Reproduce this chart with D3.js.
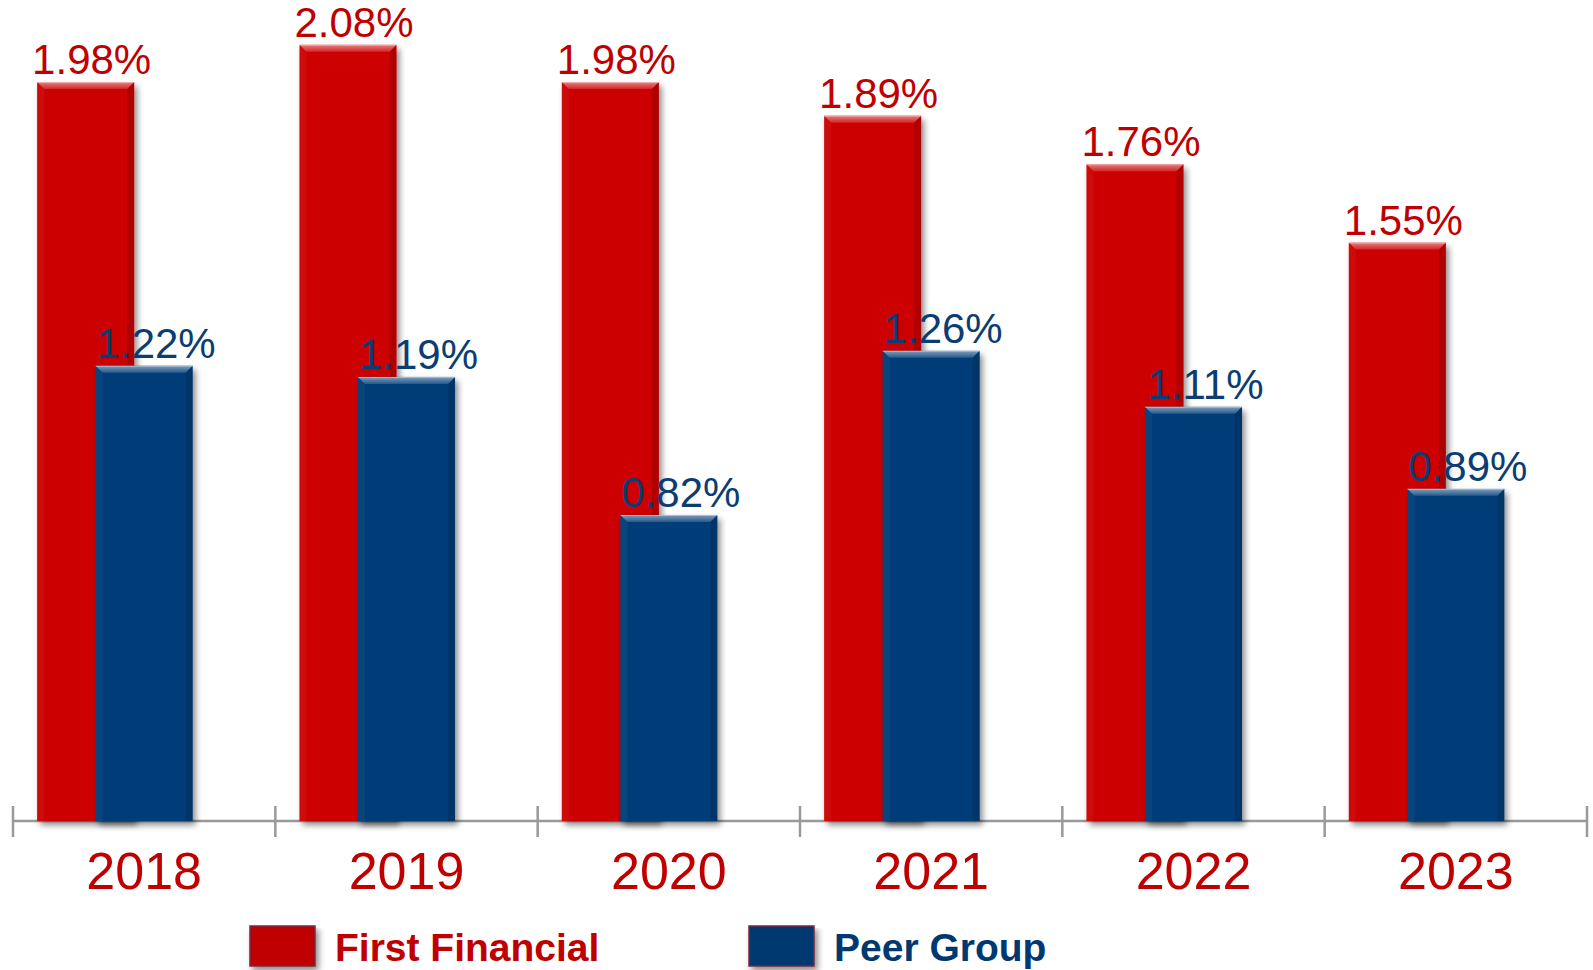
<!DOCTYPE html>
<html><head><meta charset="utf-8">
<script src="https://cdn.jsdelivr.net/npm/d3@7/dist/d3.min.js"></script>
<style>body{margin:0;background:#fff}svg{display:block}</style>
</head><body><svg id="c" width="1593" height="970"></svg>
<script>
const years = ["2018","2019","2020","2021","2022","2023"];
const firstFinancial = [1.98, 2.08, 1.98, 1.89, 1.76, 1.55];
const peerGroup = [1.22, 1.19, 0.82, 1.26, 1.11, 0.89];
const seriesNames = ["First Financial", "Peer Group"];

const W = 1593, H = 970;
const svg = d3.select("#c");
const x = d3.scaleBand().domain(years).range([13, 1587]).paddingInner(0).paddingOuter(0);
const y = d3.scaleLinear().domain([0, 2.2]).range([821, 0]);
const bw = x.bandwidth();
const barW = bw * 0.37;
const redShift = bw * 0.223;

const defs = svg.append("defs");
const f = defs.append("filter").attr("id","sh").attr("x","-20%").attr("y","-5%").attr("width","150%").attr("height","115%");
f.append("feGaussianBlur").attr("in","SourceAlpha").attr("stdDeviation",3);
f.append("feOffset").attr("dx",3).attr("dy",4).attr("result","ob");
f.append("feComponentTransfer").append("feFuncA").attr("type","linear").attr("slope",0.45);
const m = f.append("feMerge"); m.append("feMergeNode"); m.append("feMergeNode").attr("in","SourceGraphic");
const tg = defs.append("linearGradient").attr("id","topg").attr("x1",0).attr("y1",0).attr("x2",0).attr("y2",1);
tg.append("stop").attr("offset",0).attr("stop-color","#fff").attr("stop-opacity",0.5);
tg.append("stop").attr("offset",1).attr("stop-color","#fff").attr("stop-opacity",0.15);

// axis
const ax = svg.append("g").attr("stroke","#999").attr("stroke-width",2.5);
ax.append("line").attr("x1",x.range()[0]).attr("x2",x.range()[1]).attr("y1",y(0)).attr("y2",y(0));
const bounds = years.map(d=>x(d)).concat([x.range()[1]]);
ax.selectAll(".t").data(bounds).join("line").attr("x1",d=>d).attr("x2",d=>d).attr("y1",y(0)-15).attr("y2",y(0)+16);

function bar(g, x0, v, fill){
  const top = y(v), bot = y(0), b = 7;
  const gg = g.append("g");
  gg.append("rect").attr("x",x0).attr("y",top).attr("width",barW).attr("height",bot-top).attr("fill",fill).attr("filter","url(#sh)");
  gg.append("polygon").attr("points",[[x0,top],[x0+barW,top],[x0+barW-b,top+b],[x0+b,top+b]].join(" ")).attr("fill","url(#topg)");
  gg.append("polygon").attr("points",[[x0,top],[x0+b,top+b],[x0+b,bot],[x0,bot]].join(" ")).attr("fill","#fff").attr("opacity",0.04);
  gg.append("polygon").attr("points",[[x0+barW,top],[x0+barW-b,top+b],[x0+barW-b,bot],[x0+barW,bot]].join(" ")).attr("fill","#000").attr("opacity",0.13);
  gg.append("line").attr("x1",x0).attr("x2",x0+barW).attr("y1",top+0.5).attr("y2",top+0.5).attr("stroke","#fff").attr("stroke-opacity",0.35);
}

const gb = svg.append("g");
years.forEach((yr,i)=>{
  const c = x(yr) + bw/2;
  bar(gb, c - barW/2 - redShift, firstFinancial[i], "#CC0000");
  bar(gb, c - barW/2, peerGroup[i], "#063D78");
});

const lab = svg.append("g").attr("font-family","'Liberation Sans', Arial, sans-serif").attr("font-size",42).attr("text-anchor","middle");
years.forEach((yr,i)=>{
  const c = x(yr) + bw/2;
  lab.append("text").attr("x",c - redShift + 6).attr("y",y(firstFinancial[i]) - 8).attr("fill","#C00000").text(firstFinancial[i].toFixed(2)+"%");
  lab.append("text").attr("x",c + 12).attr("y",y(peerGroup[i]) - 8).attr("fill","#0B3D72").text(peerGroup[i].toFixed(2)+"%");
});

svg.append("g").attr("font-family","'Liberation Sans', Arial, sans-serif").attr("font-size",52).attr("text-anchor","middle").attr("fill","#C00000")
  .selectAll("text").data(years).join("text").attr("x",d=>x(d)+bw/2).attr("y",889).text(d=>d);

// legend
const legColors = ["#C00000","#003870"];
const legX = [250, 749];
const lg = svg.append("g");
seriesNames.forEach((s,i)=>{
  lg.append("rect").attr("x",legX[i]).attr("y",926).attr("width",65).attr("height",40).attr("fill",legColors[i]).attr("stroke","#7B2841").attr("stroke-width",1.5).attr("filter","url(#sh)");
  lg.append("text").attr("x",legX[i]+85).attr("y",961).attr("font-family","'Liberation Sans', Arial, sans-serif").attr("font-weight","bold").attr("font-size",39).attr("fill",legColors[i]).text(s);
});
</script></body></html>
